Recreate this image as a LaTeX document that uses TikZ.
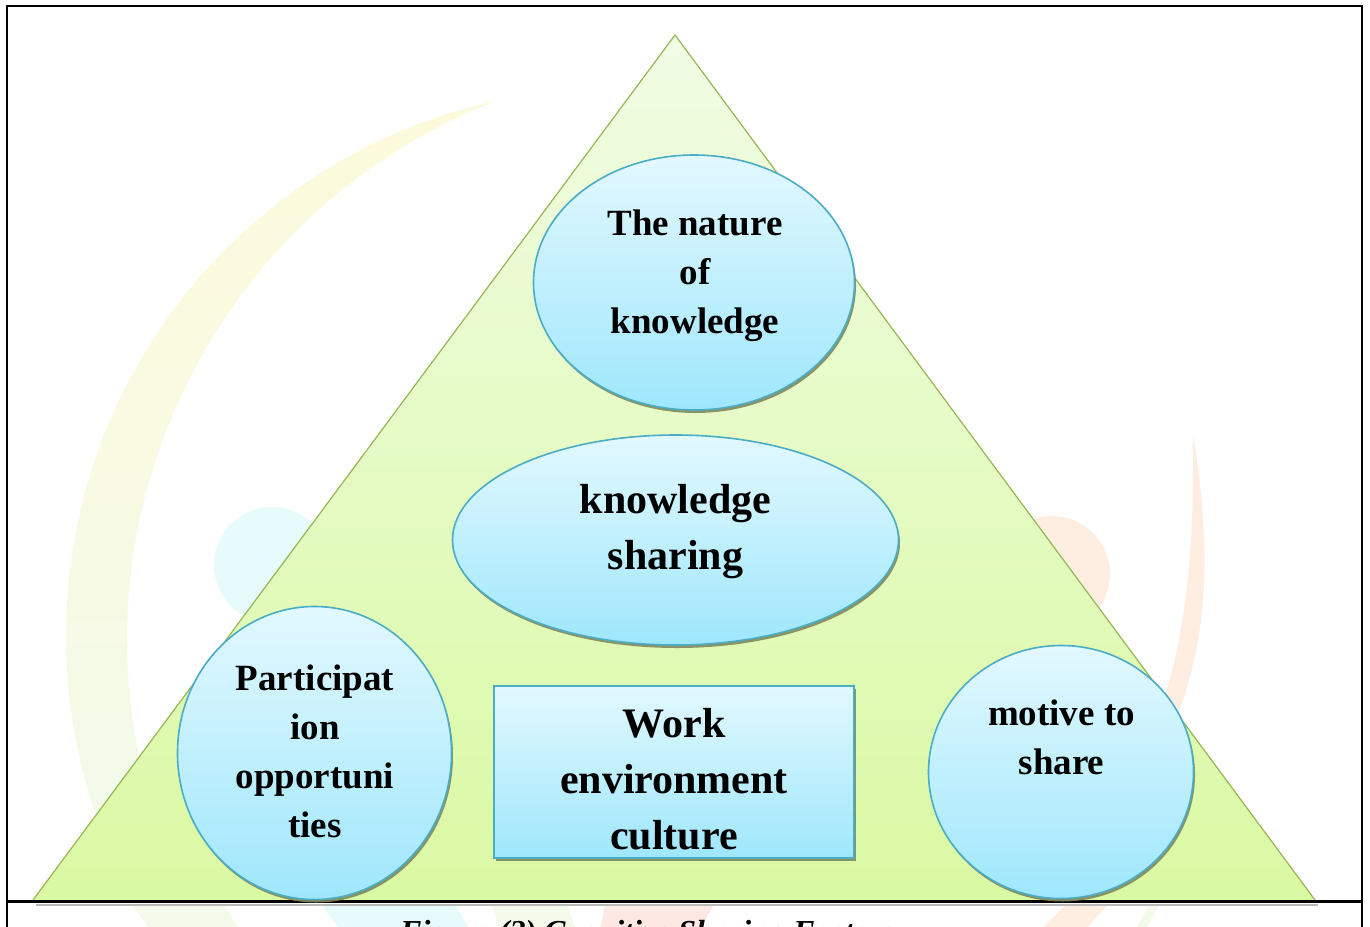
\documentclass[tikz,border=0pt]{standalone}
\usepackage{fontspec}
\setmainfont{Liberation Serif}
\usetikzlibrary{shapes.geometric,shadows}

\definecolor{triEdge}{RGB}{150,182,84}
\definecolor{triTop}{RGB}{240,252,228}
\definecolor{triBot}{RGB}{218,249,163}
\definecolor{bubTop}{RGB}{226,248,254}
\definecolor{bubBot}{RGB}{159,231,252}
\definecolor{bubEdge}{RGB}{75,172,198}
\definecolor{bubShadow}{RGB}{128,136,92}
\definecolor{wmYellow}{RGB}{253,246,185}
\definecolor{wmGreen}{RGB}{232,247,214}
\definecolor{wmCyan}{RGB}{208,247,251}
\definecolor{wmPeach}{RGB}{252,222,196}
\definecolor{wmRed}{RGB}{252,210,200}

\begin{document}
\begin{tikzpicture}[x=1pt,y=-1pt,
  bubble/.style={draw=bubEdge, line width=1.6pt, top color=bubTop, bottom color=bubBot,
    inner sep=0pt, drop shadow={shadow xshift=1.5pt, shadow yshift=-3pt, fill=bubShadow, opacity=0.9}},
  oval/.style={bubble, ellipse},
  box/.style={bubble, rectangle},
  label37/.style={anchor=north, inner sep=0pt, align=center,
    font=\fontsize{37}{49}\selectfont\bfseries, execute at begin node={\rule{0pt}{0.75em}}},
  label42/.style={anchor=north, inner sep=0pt, align=center,
    font=\fontsize{42}{56}\selectfont\bfseries, execute at begin node={\rule{0pt}{0.75em}}},
  frameline/.style={draw=black, line width=2pt},
]
\useasboundingbox (0,0) rectangle (1370,926);
\clip (0,0) rectangle (1370,926);
\fill[white] (0,0) rectangle (1370,926);

% faint background emblem
\begin{scope}[opacity=0.5]
  \shade[top color=wmYellow, bottom color=wmGreen]
    (500,100) arc[start angle=258, end angle=160, radius=548]
    -- (162,837) arc[start angle=160, end angle=249.2, radius=577.6] -- cycle;
  \fill[wmCyan] (272,565) circle[radius=58];
  \fill[wmPeach] (1052,574) circle[radius=58];
  \fill[wmPeach] (1193,435) .. controls (1214,560) and (1207,655) .. (1166,742)
    -- (1150,736) .. controls (1186,650) and (1194,560) .. (1193,435) -- cycle;
  \fill[wmGreen] (132,904) -- (223,904) -- (240,930) -- (150,930) -- cycle;
  \fill[wmCyan] (321,904) -- (455,904) -- (470,930) -- (340,930) -- cycle;
  \fill[wmGreen] (491,904) -- (567,904) -- (575,930) -- (500,930) -- cycle;
  \fill[wmRed] (605,904) -- (714,904) -- (700,930) -- (600,930) -- cycle;
  \fill[wmPeach] (1067,904) -- (1108,904) -- (1085,930) -- (1040,930) -- cycle;
  \fill[wmGreen] (1150,904) -- (1160,904) -- (1145,930) -- (1135,930) -- cycle;
\end{scope}

% pyramid
\shade[top color=triTop, bottom color=triBot] (675,35) -- (1315,900) -- (33,900) -- cycle;
\draw[triEdge, line width=1.2pt, line join=round] (33,900) -- (675,35) -- (1315,900);

% outer frame and caption rule
\draw[gray!55, line width=2pt] (36,905) -- (1318,905);
\draw[frameline] (7,940) -- (7,6) -- (1362,6) -- (1362,940);
\draw[black, line width=3pt] (7,901.5) -- (1362,901.5);

% factor shapes
\node[oval, minimum width=321pt, minimum height=255pt] (nature) at (694,282.5) {};
\node[oval, minimum width=446pt, minimum height=210pt] (sharing) at (675.5,540) {};
\node[oval, minimum width=274pt, minimum height=293pt] (particip) at (314.5,753) {};
\node[box, minimum width=360pt, minimum height=172pt] (culture) at (674,772) {};
\node[oval, minimum width=265pt, minimum height=253pt] (motive) at (1061,772) {};

% labels
\node[label37] (natureText) at (695,209.5) {The nature\\of\\knowledge};
\node[label42] (sharingText) at (675.5,484) {knowledge\\sharing};
\node[label37] (participText) at (315,664.5) {Participat\\ion\\opportuni\\ties};
\node[label42] (cultureText) at (674,708) {Work\\environment\\culture};
\node[label37] (motiveText) at (1061.5,699.5) {motive to\\share};

% caption below the rule
\node[anchor=base west, inner sep=0pt, font=\fontsize{32}{38}\selectfont\bfseries\itshape]
  (caption) at (400,942) {Figure (2) Cognitive Sharing Factors};
\end{tikzpicture}
\end{document}
